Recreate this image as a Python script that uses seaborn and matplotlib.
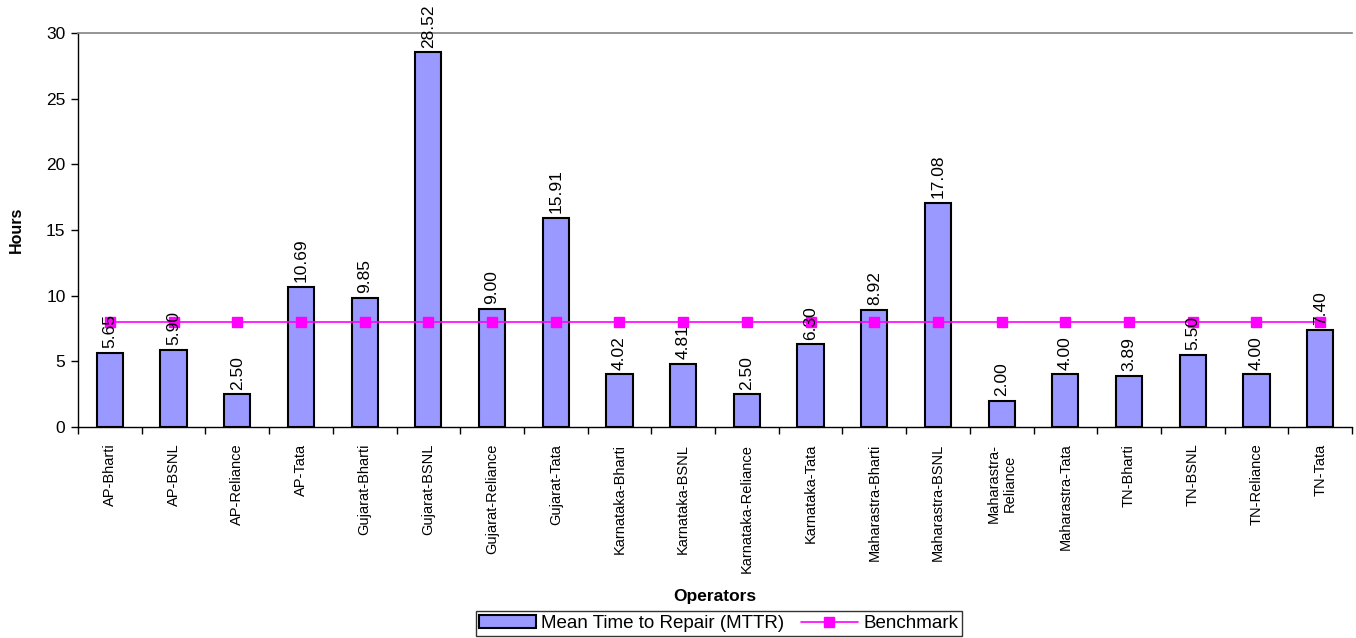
import numpy as np
import pandas as pd
import matplotlib
matplotlib.use("Agg")
import matplotlib.pyplot as plt
import seaborn as sns

BAR_COLOR = "#9999FF"
LINE_COLOR = "#FF00FF"

operators = ["AP-Bharti", "AP-BSNL", "AP-Reliance", "AP-Tata",
             "Gujarat-Bharti", "Gujarat-BSNL", "Gujarat-Reliance", "Gujarat-Tata",
             "Karnataka-Bharti", "Karnataka-BSNL", "Karnataka-Reliance", "Karnataka-Tata",
             "Maharastra-Bharti", "Maharastra-BSNL", "Maharastra-\nReliance", "Maharastra-Tata",
             "TN-Bharti", "TN-BSNL", "TN-Reliance", "TN-Tata"]
mttr = [5.65, 5.90, 2.50, 10.69, 9.85, 28.52, 9.00, 15.91,
        4.02, 4.81, 2.50, 6.30, 8.92, 17.08, 2.00, 4.00,
        3.89, 5.50, 4.00, 7.40]
benchmark = [8] * len(operators)

sns.set_theme(style="white")
plt.rcParams["font.family"] = ["Liberation Sans", "DejaVu Sans"]
plt.rcParams.update({
    "text.color": "black",
    "axes.labelcolor": "black",
    "xtick.color": "black",
    "ytick.color": "black",
})

df = pd.DataFrame({"operator": operators, "mttr": mttr, "benchmark": benchmark})

fig = plt.figure(figsize=(13.56, 6.38), dpi=100)
ax = fig.add_axes([78 / 1356, 1 - 427 / 638, (1352 - 78) / 1356, (427 - 33) / 638])

sns.barplot(data=df, x="operator", y="mttr", color=BAR_COLOR, width=0.41,
            edgecolor="black", linewidth=1.5, saturation=1, ax=ax,
            label="Mean Time to Repair (MTTR)")
pos = np.arange(len(operators))
ax.plot(pos, df["benchmark"], color=LINE_COLOR, linewidth=1.2, marker="s",
        markersize=7, label="Benchmark")

for x, v in zip(pos, mttr):
    ax.text(x, v + 0.35, f"{v:.2f}", rotation=90, ha="center", va="bottom",
            fontsize=12.5, clip_on=False)

ax.set_xlim(-0.5, len(operators) - 0.5)
ax.set_ylim(0, 30)
ax.set_yticks(range(0, 31, 5))
ax.tick_params(axis="y", which="major", left=True, length=5, width=1, labelsize=12.5, pad=4)
ax.set_xticks(pos)
ax.set_xticklabels(operators, rotation=90, fontsize=10.5, va="top")
ax.tick_params(axis="x", which="major", bottom=False, length=0, pad=12)
ax.set_xticks(np.arange(-0.5, len(operators), 1), minor=True)
ax.tick_params(axis="x", which="minor", bottom=True, length=5, width=1)

for s in ["left", "bottom"]:
    ax.spines[s].set_color("black")
    ax.spines[s].set_linewidth(1)
ax.spines["top"].set_color("#888888")
ax.spines["right"].set_visible(False)

ax.set_ylabel("Hours", fontsize=11.5, fontweight="bold", labelpad=16)
ax.set_xlabel("Operators", fontsize=12.5, fontweight="bold")
ax.xaxis.set_label_coords(0.5, -0.41)

handles, labels = ax.get_legend_handles_labels()
order = [labels.index("Mean Time to Repair (MTTR)"), labels.index("Benchmark")]
leg = ax.legend([handles[i] for i in order], [labels[i] for i in order],
                loc="lower center", bbox_to_anchor=(0.503, -0.530), borderaxespad=0,
                ncol=2, frameon=True, fancybox=False, fontsize=13.5, handlelength=3.0,
                handletextpad=0.3, columnspacing=0.9, borderpad=0.2)
leg.get_frame().set_edgecolor("black")
leg.get_frame().set_linewidth(1)

fig.savefig("out.png", dpi=100)
